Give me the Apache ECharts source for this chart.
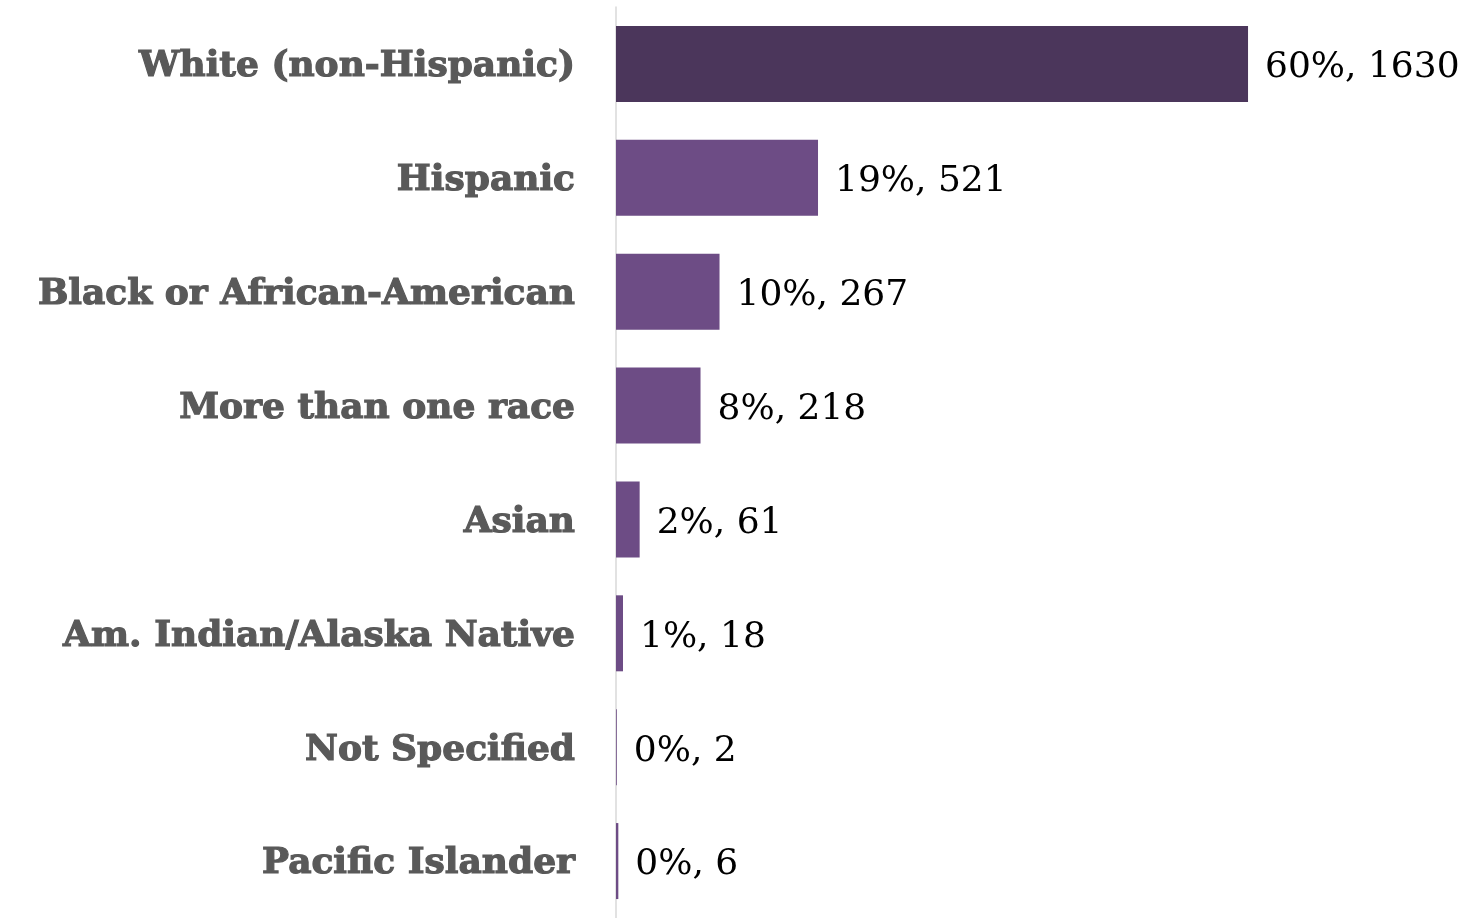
<!DOCTYPE html>
<html>
<head>
<meta charset="utf-8">
<script src="https://cdn.jsdelivr.net/npm/echarts@6/dist/echarts.min.js"></script>
<style>
  html, body { margin: 0; padding: 0; background: #ffffff; }
  #chart { width: 1468px; height: 918px; }
</style>
</head>
<body>
<div id="chart"></div>
<script>
// Respondents by race / ethnicity
const categories = [
  'White (non-Hispanic)',
  'Hispanic',
  'Black or African-American',
  'More than one race',
  'Asian',
  'Am. Indian/Alaska Native',
  'Not Specified',
  'Pacific Islander'
];
const counts = [1630, 521, 267, 218, 61, 18, 2, 6];
const percents = [60, 19, 10, 8, 2, 1, 0, 0];

const barColors = ['#4b365b', '#6d4c85', '#6d4c85', '#6d4c85', '#6d4c85', '#6d4c85', '#6d4c85', '#6d4c85'];

const chart = echarts.init(document.getElementById('chart'), null, { renderer: 'canvas' });

chart.setOption({
  animation: false,
  grid: { left: 616, right: 76.5, top: 7, height: 915, containLabel: false },
  xAxis: {
    type: 'value',
    min: 0,
    max: 2000,
    show: false
  },
  yAxis: {
    type: 'category',
    inverse: true,
    data: categories,
    axisLine: { show: true, lineStyle: { color: '#d9d9d9', width: 1.5 } },
    axisTick: { show: false },
    axisLabel: {
      margin: 41,
      formatter: v => '{c|' + v + '}',
      rich: {
        c: {
          color: '#595959',
          fontFamily: 'DejaVu Serif',
          fontWeight: 'bold',
          fontSize: 36,
          padding: [6, 0, 0, 0],
          textBorderColor: '#595959',
          textBorderWidth: 1.2
        }
      }
    }
  },
  series: [{
    type: 'bar',
    barWidth: 76,
    data: counts.map((v, i) => ({ value: v, itemStyle: { color: barColors[i] } })),
    label: {
      show: true,
      position: 'right',
      distance: 17,
      color: '#000000',
      fontFamily: 'DejaVu Serif',
      fontSize: 36,
      offset: [0, 4],
      formatter: p => percents[p.dataIndex] + '%, ' + counts[p.dataIndex]
    }
  }]
});
</script>
</body>
</html>
